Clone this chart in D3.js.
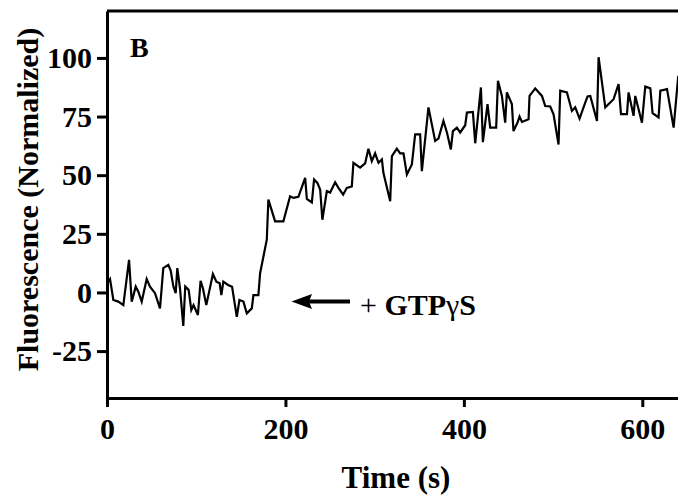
<!DOCTYPE html>
<html lang="en">
<head>
    <meta charset="UTF-8">
    <title>Fluorescence vs Time</title>
    <script src="https://d3js.org/d3.v7.min.js"></script>
    <style>
        body { margin: 0; background: #fff; overflow: hidden; }
        svg { display: block; font-family: "Liberation Serif", "Times New Roman", serif; }
        .axis path, .axis line { stroke: #000; stroke-width: 3px; }
        .axis text { font-size: 30px; font-weight: bold; fill: #000; font-family: "Liberation Serif", serif; }
        .trace { fill: none; stroke: #000; stroke-width: 2.2px; stroke-linejoin: miter; }
    </style>
</head>
<body>
    <div id="chart"></div>
    <script>
        const width = 678, height = 501;
        const margin = { top: 11, right: 0, bottom: 103, left: 107 };

        // time (s) and normalized fluorescence
        const timeS = [0, 3.4, 7.1, 12.7, 18.3, 24.7, 27.7, 32.2, 35.1, 38.9, 44.5, 48.2, 53.8, 59.4, 63.1, 68.7,
            71.4, 74.4, 77.0, 78.8, 81.8, 85.5, 87.7, 91.5, 94.5, 97.0, 101.9, 104.9, 107.5, 111.3, 118.7, 122.6,
            126.3, 128.2, 130.4, 135.7, 140.2, 145.5, 148.4, 152.9, 156.7, 162.3, 164.1, 169.7, 171.6, 179.1,
            180.9, 188.4, 197.7, 205.2, 208.9, 214.5, 222.1, 224.0, 229.6, 232.1, 235.8, 238.9, 241.4, 246.4,
            250.1, 255.7, 259.4, 264.7, 268.8, 274.4, 276.2, 283.7, 289.3, 293.0, 296.8, 300.5, 304.3, 308.1,
            309.8, 317.4, 319.3, 324.9, 328.6, 332.3, 336.1, 341.7, 345.4, 351.0, 352.9, 360.3, 367.8, 371.5,
            377.1, 381.0, 385.4, 387.7, 392.2, 395.9, 401.5, 403.4, 410.1, 412.7, 419.1, 421.3, 426.5, 429.5,
            436.2, 438.2, 442.6, 446.3, 448.2, 453.8, 455.6, 460.1, 462.4, 465.1, 472.5, 473.6, 480.0, 487.5,
            491.2, 496.8, 500.5, 506.1, 508.0, 515.5, 521.1, 524.8, 529.7, 534.1, 538.6, 541.7, 549.2, 551.0,
            558.5, 567.8, 573.4, 576.1, 582.8, 584.6, 590.2, 592.1, 599.6, 603.3, 609.0, 611.5, 618.2, 620.2,
            627.7, 635.1, 640.3];
        const fluor = [3.9, 5.7, -3.2, -3.9, -5.4, 13.9, -3.9, 2.5, 0.3, -3.9, 5.7, 2.5, -0.3, -6.8, 10.4, 11.8,
            9.3, 2.5, -0.3, 10.4, 1.8, -14.3, 2.5, 1.1, -7.5, -5.4, -9.6, 5.0, 1.8, -5.4, 7.9, 4.6,
            3.9, -1.1, 4.6, 3.2, 2.4, -10.4, -3.2, -3.9, -8.9, -6.8, -1.1, -1.1, 8.2, 22.5,
            39.6, 30.3, 30.3, 41.0, 40.3, 40.8, 48.9, 39.9, 38.4, 48.2, 46.7, 43.9, 31.0, 43.2,
            42.6, 47.0, 44.6, 41.7, 44.6, 45.2, 55.3, 53.2, 55.0, 61.3, 56.0, 59.3, 55.3, 56.7,
            51.0, 38.9, 58.1, 61.3, 59.3, 59.3, 50.3, 54.6, 67.4, 67.4, 51.7, 78.9, 64.6, 65.6,
            73.1, 68.2, 61.0, 68.8, 70.3, 68.2, 71.3, 76.7, 77.0, 63.6, 87.4, 64.1, 80.3, 70.3,
            70.3, 90.2, 83.8, 72.4, 85.3, 80.3, 68.8, 72.4, 75.0, 72.7, 73.8, 83.8, 87.0, 83.8,
            79.5, 79.3, 76.0, 63.1, 86.0, 85.3, 77.4, 78.9, 74.1, 78.9, 83.6, 83.8, 73.1, 100.3,
            78.9, 82.4, 88.8, 76.0, 76.0, 85.3, 75.3, 83.8, 72.4, 87.8, 87.0, 76.4, 74.6, 86.0,
            86.7, 70.3, 92.4];

        const xTicks = [0, 200, 400, 600];
        const yTicks = [-25, 0, 25, 50, 75, 100];

        const data = timeS.map((t, i) => ({ t, v: fluor[i] }));

        const svg = d3.select("#chart").append("svg")
            .attr("width", width)
            .attr("height", height);

        const x = d3.scaleLinear().domain([0, 640]).range([margin.left, width - margin.right]);
        const y = d3.scaleLinear().domain([-45, 120]).range([height - margin.bottom, margin.top]);

        svg.append("clipPath").attr("id", "plotClip")
            .append("rect")
            .attr("x", margin.left).attr("y", margin.top)
            .attr("width", width - margin.left - margin.right)
            .attr("height", height - margin.top - margin.bottom);

        // trace
        const line = d3.line().x(d => x(d.t)).y(d => y(d.v));
        svg.append("path")
            .datum(data)
            .attr("class", "trace")
            .attr("clip-path", "url(#plotClip)")
            .attr("d", line);

        // frame top
        svg.append("line")
            .attr("x1", margin.left).attr("x2", width)
            .attr("y1", margin.top).attr("y2", margin.top)
            .attr("stroke", "#000").attr("stroke-width", 3);

        svg.append("g")
            .attr("class", "axis")
            .attr("transform", `translate(0,${height - margin.bottom})`)
            .call(d3.axisBottom(x).tickValues(xTicks).tickSize(9).tickSizeOuter(0).tickPadding(11).tickFormat(d => String(d)));

        svg.append("g")
            .attr("class", "axis")
            .attr("transform", `translate(${margin.left},0)`)
            .call(d3.axisLeft(y).tickValues(yTicks).tickSize(10).tickSizeOuter(0).tickPadding(5).tickFormat(d => String(d)));

        // axis titles
        svg.append("text")
            .attr("transform", `translate(38,${(margin.top + height - margin.bottom) / 2 - 5}) rotate(-90)`)
            .attr("text-anchor", "middle")
            .style("font-size", "30px")
            .style("font-weight", "bold")
            .text("Fluorescence (Normalized)");

        svg.append("text")
            .attr("x", 396)
            .attr("y", 488)
            .attr("text-anchor", "middle")
            .style("font-size", "31px")
            .style("font-weight", "bold")
            .text("Time (s)");

        // panel letter
        svg.append("text")
            .attr("x", 130)
            .attr("y", 57)
            .style("font-size", "28px")
            .style("font-weight", "bold")
            .text("B");

        // addition marker
        const arrowY = 301.5;
        svg.append("line")
            .attr("x1", 306).attr("x2", 350)
            .attr("y1", arrowY).attr("y2", arrowY)
            .attr("stroke", "#000").attr("stroke-width", 4);
        svg.append("path")
            .attr("d", `M291.5,${arrowY} L312,${arrowY - 7.5} L309,${arrowY} L312,${arrowY + 7.5} Z`)
            .attr("fill", "#000");

        const label = svg.append("text")
            .attr("x", 360)
            .attr("y", 315)
            .style("font-size", "30px");
        label.append("tspan").text("+ ");
        label.append("tspan").style("font-weight", "bold").text("GTP");
        label.append("tspan").text("γ");
        label.append("tspan").style("font-weight", "bold").text("S");
    </script>
</body>
</html>
